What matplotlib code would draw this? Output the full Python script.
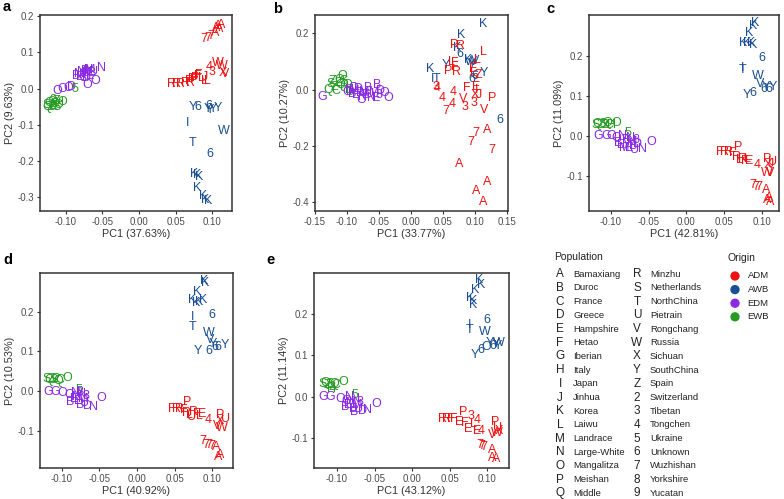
import matplotlib
matplotlib.use("Agg")
import matplotlib.pyplot as plt

plt.rcParams['font.family'] = ['Liberation Sans', 'DejaVu Sans']

# colours per origin group
origins = ["ADM", "AWB", "EDM", "EWB"]
origin_colors = {"ADM": "#EE1111", "AWB": "#1A4F93", "EDM": "#8A2BE2", "EWB": "#259B24"}
code2origin = {"r": "ADM", "b": "AWB", "p": "EDM", "g": "EWB"}

pop_codes = list("ABCDEFGHIJKLMNOPQRSTUVWXYZ23456789")
pop_names = ["Bamaxiang", "Duroc", "France", "Greece", "Hampshire", "Hetao", "Iberian",
             "Italy", "Japan", "Jinhua", "Korea", "Laiwu", "Landrace", "Large-White",
             "Mangalitza", "Meishan", "Middle", "Minzhu", "Netherlands", "NorthChina",
             "Pietrain", "Rongchang", "Russia", "Sichuan", "SouthChina", "Spain",
             "Switzerland", "Tibetan", "Tongchen", "Ukraine", "Unknown", "Wuzhishan",
             "Yorkshire", "Yucatan"]

# ---------------- panel a ----------------
a_lab = list("AAAAA777WW43XVRRRRFFFFLLFPJRL"
             "Y6Y6YYYIWT6KKKKKKK"
             "OOODBMENMBDNEMBUNOOD8"
             "SQZS2QSZCHO5Q2")
a_org = list("r" * 29 + "b" * 18 + "p" * 21 + "g" * 14)
a_x = [0.108, 0.112, 0.105, 0.110, 0.104, 0.088, 0.094, 0.098, 0.108, 0.113, 0.096, 0.100, 0.114, 0.117,
       0.045, 0.051, 0.057, 0.063, 0.068, 0.072, 0.076, 0.080, 0.085, 0.089, 0.082, 0.076, 0.090, 0.070, 0.093,
       0.074, 0.081, 0.094, 0.096, 0.097, 0.101, 0.108, 0.066, 0.116, 0.073, 0.097, 0.075, 0.080, 0.082,
       0.079, 0.088, 0.091, 0.094,
       -0.111, -0.104, -0.097, -0.092, -0.085, -0.082, -0.080, -0.078, -0.075, -0.073, -0.071, -0.069,
       -0.067, -0.066, -0.064, -0.062, -0.051, -0.070, -0.059, -0.072, -0.076,
       -0.126, -0.123, -0.121, -0.119, -0.117, -0.115, -0.113, -0.112, -0.110, -0.108, -0.104, -0.087,
       -0.125, -0.118]
a_y = [0.172, 0.176, 0.168, 0.163, 0.152, 0.136, 0.140, 0.144, 0.070, 0.062, 0.060, 0.045, 0.044, 0.040,
       0.012, 0.013, 0.012, 0.014, 0.020, 0.025, 0.030, 0.034, 0.028, 0.022, 0.038, 0.024, 0.032, 0.016, 0.021,
       -0.052, -0.050, -0.056, -0.048, -0.060, -0.056, -0.054, -0.096, -0.118, -0.151, -0.180, -0.236,
       -0.240, -0.244, -0.275, -0.297, -0.308, -0.310,
       -0.006, -0.002, 0.001, 0.004, 0.035, 0.040, 0.032, 0.045, 0.038, 0.048, 0.042, 0.050,
       0.036, 0.052, 0.044, 0.047, 0.056, 0.010, 0.021, 0.028, 0.030,
       -0.045, -0.040, -0.050, -0.038, -0.048, -0.043, -0.052, -0.035, -0.045, -0.040, -0.036, -0.002,
       -0.052, -0.032]

# ---------------- panel b ----------------
b_lab = list("KKK6KYITKWVYY666"
             "PRLLLFPRFEZL34F4EI4V433XJPV7A777AAAA"
             "OSQZ2OSCHQOD5Z"
             "GONBMEDBNMOEBUNMB8DOOEO")
b_org = list("b" * 16 + "r" * 36 + "g" * 14 + "p" * 23)
b_x = [0.113, 0.079, 0.072, 0.077, 0.030, 0.055, 0.034, 0.040, 0.089, 0.094, 0.100, 0.095, 0.114,
       0.095, 0.0995, 0.139,
       0.068, 0.078, 0.113, 0.104, 0.063, 0.069, 0.058, 0.071, 0.068, 0.097, 0.105, 0.098, 0.039, 0.041,
       0.088, 0.067, 0.102, 0.103, 0.049, 0.082, 0.065, 0.085, 0.099, 0.100, 0.107, 0.127, 0.115, 0.055,
       0.119, 0.102, 0.094, 0.127, 0.076, 0.120, 0.102, 0.113,
       -0.108, -0.125, -0.130, -0.120, -0.115, -0.112, -0.106, -0.118, -0.104, -0.110, -0.100, -0.095,
       -0.098, -0.123,
       -0.138, -0.100, -0.096, -0.092, -0.088, -0.085, -0.082, -0.079, -0.076, -0.073, -0.078, -0.070,
       -0.067, -0.064, -0.061, -0.058, -0.053, -0.050, -0.047, -0.041, -0.036, -0.055, -0.090]
b_y = [0.233, 0.194, 0.148, 0.126, 0.073, 0.088, 0.038, 0.036, 0.104, 0.098, 0.100, 0.090, 0.060,
       0.037, 0.048, -0.108,
       0.158, 0.156, 0.135, 0.105, 0.099, 0.093, 0.067, 0.064, 0.080, 0.072, 0.052, 0.060, 0.008, 0.004,
       0.005, -0.007, 0.011, -0.001, -0.028, -0.034, -0.051, -0.060, -0.049, -0.019, -0.019, -0.028,
       -0.072, -0.076, -0.143, -0.155, -0.185, -0.214, -0.264, -0.327, -0.359, -0.398,
       0.049, 0.020, 0.000, 0.010, 0.025, 0.035, 0.030, -0.005, 0.010, 0.015, 0.015, -0.010,
       0.000, 0.030,
       -0.025, -0.010, 0.000, -0.015, -0.005, -0.020, 0.002, -0.012, -0.025, -0.008, -0.037, -0.018,
       0.004, -0.015, -0.028, -0.010, 0.017, -0.020, -0.005, -0.011, -0.028, -0.030, 0.005]

# ---------------- panel c ----------------
c_lab = list("KKKKKKK6ITWVY6Y6Y6"
             "PFRRFRLRFLE4PUXJWV777AAAA"
             "SQZS2QCHO5"
             "GGOOBNBMENMBU8DNOEM")
c_org = list("b" * 18 + "r" * 25 + "g" * 10 + "p" * 19)
c_x = [0.090, 0.088, 0.083, 0.075, 0.080, 0.085, 0.088, 0.100, 0.074, 0.074, 0.094, 0.097, 0.105,
       0.109, 0.114, 0.102, 0.079, 0.088,
       0.068, 0.044, 0.050, 0.056, 0.061, 0.066, 0.070, 0.074, 0.077, 0.080, 0.083, 0.093, 0.107, 0.114,
       0.107, 0.111, 0.106, 0.110, 0.088, 0.092, 0.096, 0.105, 0.107, 0.109, 0.110,
       -0.120, -0.117, -0.114, -0.111, -0.108, -0.105, -0.102, -0.099, -0.093, -0.077,
       -0.116, -0.106, -0.099, -0.093, -0.090, -0.084, -0.080, -0.078, -0.076, -0.074, -0.072, -0.070,
       -0.068, -0.066, -0.064, -0.058, -0.047, -0.086, -0.082]
c_y = [0.281, 0.275, 0.256, 0.231, 0.233, 0.232, 0.228, 0.195, 0.170, 0.165, 0.149, 0.130, 0.122,
       0.118, 0.122, 0.116, 0.102, 0.106,
       -0.028, -0.040, -0.040, -0.041, -0.044, -0.052, -0.060, -0.058, -0.062, -0.058, -0.063, -0.073,
       -0.057, -0.065, -0.073, -0.070, -0.094, -0.092, -0.123, -0.128, -0.128, -0.136, -0.161, -0.155,
       -0.165,
       0.028, 0.030, 0.026, 0.030, 0.027, 0.031, 0.028, 0.026, 0.033, 0.008,
       0.000, 0.000, 0.000, -0.005, -0.019, 0.000, -0.010, -0.020, -0.030, -0.005, -0.015, -0.025,
       -0.035, -0.010, -0.020, -0.032, -0.015, -0.022, -0.030]

# ---------------- panel d ----------------
d_lab = list("KKKKKKK6ITWVY6YY66"
             "PFRRFRLURFLE4PUXWV7777AAA"
             "SQZS2QCO5"
             "GGOOBNMEBNMU8DNOEB")
d_org = list("b" * 18 + "r" * 25 + "g" * 9 + "p" * 18)
d_x = [0.089, 0.090, 0.080, 0.073, 0.078, 0.083, 0.088, 0.100, 0.074, 0.074, 0.095, 0.097, 0.101,
       0.108, 0.117, 0.081, 0.095, 0.103,
       0.066, 0.046, 0.052, 0.057, 0.062, 0.066, 0.070, 0.072, 0.075, 0.079, 0.083, 0.086, 0.095, 0.110,
       0.117, 0.110, 0.112, 0.107, 0.088, 0.092, 0.095, 0.099, 0.105, 0.108, 0.110,
       -0.120, -0.117, -0.114, -0.111, -0.108, -0.105, -0.102, -0.093, -0.077,
       -0.118, -0.109, -0.100, -0.090, -0.089, -0.082, -0.080, -0.078, -0.076, -0.074, -0.072, -0.070,
       -0.068, -0.066, -0.058, -0.047, -0.084, -0.075]
d_y = [0.277, 0.272, 0.250, 0.229, 0.222, 0.225, 0.228, 0.192, 0.187, 0.162, 0.145, 0.128, 0.118,
       0.110, 0.116, 0.101, 0.101, 0.112,
       -0.027, -0.044, -0.044, -0.045, -0.048, -0.054, -0.060, -0.065, -0.052, -0.058, -0.062, -0.057,
       -0.073, -0.061, -0.069, -0.075, -0.092, -0.088, -0.124, -0.134, -0.136, -0.138, -0.140, -0.166,
       -0.160,
       0.030, 0.028, 0.031, 0.027, 0.030, 0.026, 0.029, 0.032, 0.003,
       -0.002, -0.002, -0.004, -0.010, -0.027, -0.005, -0.015, -0.025, -0.035, -0.008, -0.020, -0.030,
       -0.012, -0.038, -0.040, -0.018, -0.020, -0.002]

# ---------------- panel e ----------------
e_lab = list("KKKKKK6ITWY6OY6YWY"
             "PRRFFE34EFLE4PUXWV777AAA"
             "SQZS2QCHO5"
             "GGOOBNMEBNMU8DNOE")
e_org = list("b" * 18 + "r" * 24 + "g" * 10 + "p" * 17)
e_x = [0.089, 0.092, 0.084, 0.077, 0.081, 0.081, 0.100, 0.077, 0.077, 0.097, 0.084, 0.092, 0.099,
       0.104, 0.108, 0.112, 0.116, 0.114,
       0.068, 0.041, 0.046, 0.051, 0.056, 0.062, 0.078, 0.087, 0.075, 0.070, 0.081, 0.086, 0.092, 0.110,
       0.114, 0.116, 0.113, 0.106, 0.090, 0.093, 0.095, 0.107, 0.106, 0.112,
       -0.119, -0.116, -0.113, -0.110, -0.107, -0.104, -0.101, -0.108, -0.092, -0.076,
       -0.119, -0.109, -0.096, -0.088, -0.089, -0.083, -0.081, -0.079, -0.077, -0.075, -0.073, -0.071,
       -0.069, -0.066, -0.059, -0.048, -0.085]
e_y = [0.282, 0.270, 0.258, 0.238, 0.230, 0.222, 0.185, 0.173, 0.161, 0.156, 0.101, 0.113, 0.120,
       0.130, 0.123, 0.128, 0.130, 0.122,
       -0.036, -0.052, -0.052, -0.052, -0.054, -0.060, -0.047, -0.056, -0.078, -0.062, -0.065, -0.081,
       -0.081, -0.060, -0.075, -0.081, -0.087, -0.092, -0.116, -0.119, -0.121, -0.128, -0.148, -0.149,
       0.030, 0.033, 0.028, 0.031, 0.025, 0.031, 0.028, 0.020, 0.035, 0.005,
       0.000, 0.000, -0.005, -0.011, -0.025, 0.000, -0.015, -0.028, -0.036, -0.005, -0.020, -0.030,
       -0.012, -0.033, -0.032, -0.016, -0.020]

panels = [
    ("a", a_lab, a_org, a_x, a_y, "PC1 (37.63%)", "PC2 (9.63%)",
     (-0.135, 0.127), (-0.338, 0.203), [-0.10, -0.05, 0.00, 0.05, 0.10], [0.2, 0.1, 0.0, -0.1, -0.2, -0.3],
     [40, 15, 192, 196], (3, 7)),
    ("b", b_lab, b_org, b_x, b_y, "PC1 (33.77%)", "PC2 (10.27%)",
     (-0.150, 0.152), (-0.431, 0.265), [-0.15, -0.10, -0.05, 0.00, 0.05, 0.10, 0.15], [0.2, 0.0, -0.2, -0.4],
     [315, 15, 193, 196], (273, 9)),
    ("c", c_lab, c_org, c_x, c_y, "PC1 (42.81%)", "PC2 (11.09%)",
     (-0.1285, 0.122), (-0.188, 0.302), [-0.10, -0.05, 0.00, 0.05, 0.10], [0.2, 0.1, 0.0, -0.1],
     [589, 15, 190, 196], (546, 9)),
    ("d", d_lab, d_org, d_x, d_y, "PC1 (40.92%)", "PC2 (10.53%)",
     (-0.129, 0.1275), (-0.193, 0.297), [-0.10, -0.05, 0.00, 0.05, 0.10], [0.2, 0.1, 0.0, -0.1],
     [40, 273, 193, 195], (3, 260)),
    ("e", e_lab, e_org, e_x, e_y, "PC1 (43.12%)", "PC2 (11.14%)",
     (-0.1307, 0.129), (-0.171, 0.298), [-0.10, -0.05, 0.00, 0.05, 0.10], [0.2, 0.1, 0.0, -0.1],
     [314, 273, 195, 195], (266, 260)),
]

W, H = 784, 499
fig = plt.figure(figsize=(W / 100, H / 100), dpi=100)

for tag, lab, org, xs, ys, xl, yl, xlim, ylim, xt, yt, box, tagpos in panels:
    l, t, w, h = box
    ax = fig.add_axes([l / W, 1 - (t + h) / H, w / W, h / H])
    for s, o, x, y in zip(lab, org, xs, ys):
        ax.text(x, y, s, color=origin_colors[code2origin[o]], fontsize=9,
                ha="center", va="center", clip_on=True)
    ax.set_xlim(*xlim)
    ax.set_ylim(*ylim)
    ax.set_xticks(xt)
    ax.set_xticklabels([f"{v:.2f}" for v in xt])
    ax.set_yticks(yt)
    ax.set_yticklabels([f"{v:.1f}" for v in yt])
    ax.tick_params(direction="out", length=2.5, width=0.8, colors="#333333",
                   labelsize=7, labelcolor="#4D4D4D", pad=1.5)
    for sp in ax.spines.values():
        sp.set_color("#333333")
        sp.set_linewidth(1.1)
    ax.set_xlabel(xl, fontsize=7.8, color="#333333", labelpad=1.5)
    ax.set_ylabel(yl, fontsize=7.8, color="#333333", labelpad=2)
    fig.text(tagpos[0] / W, 1 - tagpos[1] / H, tag, fontsize=10.5, fontweight="bold",
             ha="left", va="center")

# legend: Population
fig.text(554 / W, 1 - 257 / H, "Population", fontsize=7.5, color="#222222", ha="left", va="center")
row0, dy = 274.3, 13.69
for i, (c, n) in enumerate(zip(pop_codes, pop_names)):
    col, row = divmod(i, 17)
    y = 1 - (row0 + row * dy) / H
    xc = (560 if col == 0 else 637) / W
    xn = (573 if col == 0 else 650) / W
    fig.text(xc, y, c, fontsize=8.5, color="#222222", ha="center", va="center")
    fig.text(xn, y, n, fontsize=6.8, color="#222222", ha="left", va="center")

# legend: Origin
fig.text(728 / W, 1 - 258 / H, "Origin", fontsize=7.5, color="#222222", ha="left", va="center")
lax = fig.add_axes([0, 0, 1, 1], facecolor="none")
lax.set_xlim(0, W)
lax.set_ylim(H, 0)
lax.axis("off")
for i, o in enumerate(origins):
    y = 276 + i * 13.6
    lax.scatter([735], [y], s=45, color=origin_colors[o], edgecolors="none")
    lax.text(747.5, y, o, fontsize=6.8, color="#222222", ha="left", va="center")

fig.savefig("out.png", dpi=100)
